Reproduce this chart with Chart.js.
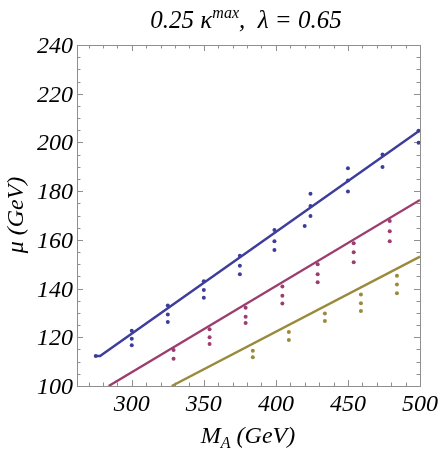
<!DOCTYPE html>
<html>
<head>
<meta charset="utf-8">
<script src="https://cdn.jsdelivr.net/npm/chart.js@4.4.0/dist/chart.umd.min.js"></script>
<style>
  html, body { margin: 0; padding: 0; background: #fff; }
  #wrap { width: 443px; height: 454px; }
</style>
</head>
<body>
<div id="wrap"><canvas id="muChart" width="443" height="454"></canvas></div>
<script>
// axis ranges and tick labels
const xRange = [262, 500];
const yRange = [100, 240];
const xTickLabels = [300, 350, 400, 450, 500];
const yTickLabels = [100, 120, 140, 160, 180, 200, 220, 240];

// scan points
const blueX = [275, 300, 300, 300, 325, 325, 325, 350, 350, 350, 375, 375, 375, 399, 399, 399, 420, 424, 424, 424, 450, 450, 450, 474, 474, 499, 499];
const blueY = [112.3, 122.7, 119.4, 116.7, 133.0, 129.4, 126.3, 143.0, 139.4, 136.2, 153.5, 149.4, 145.9, 164.0, 159.4, 155.8, 165.7, 178.9, 173.9, 169.8, 189.4, 184.4, 179.9, 195.0, 189.9, 204.8, 199.9];
const magX = [329, 329, 354, 354, 354, 379, 379, 379, 404.5, 404.5, 404.5, 429, 429, 429, 454, 454, 454, 479, 479, 479];
const magY = [114.8, 111.2, 123.3, 120.0, 117.2, 132.1, 128.4, 125.9, 140.8, 137.1, 133.9, 150.0, 145.9, 142.6, 158.6, 154.9, 150.8, 167.7, 163.5, 159.4];
const goldX = [384, 384, 409, 409, 434, 434, 459, 459, 459, 484, 484, 484];
const goldY = [114.5, 111.8, 122.2, 118.9, 129.8, 126.7, 137.6, 134.0, 130.8, 145.3, 141.7, 138.1];

// fitted lines
const blueLineX = [275, 278, 500];
const blueLineY = [112.3, 112.3, 205];
const magLineX = [284, 500];
const magLineY = [100, 176.4];
const goldLineX = [327.7, 500];
const goldLineY = [100, 153.1];

const BLUE = '#3d3d9c';
const MAG = '#9c3d6f';
const GOLD = '#9a8a3c';
const FRAME = '#8f8f8f';
const SERIF = '"Liberation Serif", "Times New Roman", Times, serif';
const FONT = 'italic 24px ' + SERIF;
const TITLE = 'italic 25px ' + SERIF;
const SMALL = 'italic 16px ' + SERIF;

function toXY(xs, ys) {
    return xs.map((x, i) => ({ x: x, y: ys[i] }));
}

function pointSet(xs, ys, color) {
    return {
        type: 'scatter',
        data: toXY(xs, ys),
        backgroundColor: color,
        borderColor: color,
        pointRadius: 2,
        pointBorderWidth: 0,
        showLine: false
    };
}

function lineSet(xs, ys, color) {
    return {
        type: 'line',
        data: toXY(xs, ys),
        borderColor: color,
        borderWidth: 2.4,
        pointRadius: 0,
        fill: false,
        tension: 0
    };
}

// frame, inward ticks and serif labels
const framePlugin = {
    id: 'frame',
    beforeDatasetsDraw(chart) {
        const ctx = chart.ctx;
        const a = chart.chartArea;
        const xs = chart.scales.x;
        const ys = chart.scales.y;
        ctx.save();
        ctx.strokeStyle = FRAME;
        ctx.lineWidth = 1;
        ctx.strokeRect(a.left + 0.5, a.top + 0.5, a.right - a.left, a.bottom - a.top);

        ctx.beginPath();
        for (let v = 270; v <= xRange[1]; v += 10) {
            const px = Math.round(xs.getPixelForValue(v)) + 0.5;
            const len = v % 50 === 0 ? 6 : 3.5;
            ctx.moveTo(px, a.bottom);
            ctx.lineTo(px, a.bottom - len);
            ctx.moveTo(px, a.top);
            ctx.lineTo(px, a.top + len);
        }
        for (let v = yRange[0]; v <= yRange[1]; v += 5) {
            const py = Math.round(ys.getPixelForValue(v)) + 0.5;
            const len = v % 20 === 0 ? 6 : 3.5;
            ctx.moveTo(a.left, py);
            ctx.lineTo(a.left + len, py);
            ctx.moveTo(a.right, py);
            ctx.lineTo(a.right - len, py);
        }
        ctx.stroke();

        ctx.fillStyle = '#000';
        ctx.font = FONT;
        ctx.textAlign = 'center';
        ctx.textBaseline = 'alphabetic';
        xTickLabels.forEach(v => ctx.fillText(String(v), xs.getPixelForValue(v), a.bottom + 25));
        ctx.textAlign = 'right';
        yTickLabels.forEach(v => ctx.fillText(String(v), a.left - 4, ys.getPixelForValue(v) + 8));
        ctx.restore();
    },
    afterDraw(chart) {
        const ctx = chart.ctx;
        ctx.save();
        ctx.fillStyle = '#000';
        ctx.textBaseline = 'alphabetic';
        ctx.textAlign = 'left';

        // title: 0.25 κ^max,  λ = 0.65
        const parts = [
            { t: '0.25 \u03BA', f: TITLE, dy: 0 },
            { t: 'max', f: SMALL, dy: -10 },
            { t: ',  \u03BB = 0.65', f: TITLE, dy: 0 }
        ];
        let total = 0;
        parts.forEach(p => { ctx.font = p.f; p.w = ctx.measureText(p.t).width; total += p.w; });
        let x = 246 - total / 2;
        parts.forEach(p => { ctx.font = p.f; ctx.fillText(p.t, x, 28 + p.dy); x += p.w; });

        // x axis title: M_A (GeV)
        const xParts = [
            { t: 'M', f: FONT, dy: 0 },
            { t: 'A', f: SMALL, dy: 5 },
            { t: ' (GeV)', f: FONT, dy: 0 }
        ];
        total = 0;
        xParts.forEach(p => { ctx.font = p.f; p.w = ctx.measureText(p.t).width; total += p.w; });
        x = 248 - total / 2;
        xParts.forEach(p => { ctx.font = p.f; ctx.fillText(p.t, x, 443 + p.dy); x += p.w; });

        // y axis title
        ctx.translate(23, 215);
        ctx.rotate(-Math.PI / 2);
        ctx.font = FONT;
        ctx.textAlign = 'center';
        ctx.fillText('\u03BC (GeV)', 0, 0);
        ctx.restore();
    }
};

function initChart() {
    const ctx = document.getElementById('muChart').getContext('2d');
    new Chart(ctx, {
        type: 'scatter',
        data: {
            datasets: [
                lineSet(blueLineX, blueLineY, BLUE),
                lineSet(magLineX, magLineY, MAG),
                lineSet(goldLineX, goldLineY, GOLD),
                pointSet(blueX, blueY, BLUE),
                pointSet(magX, magY, MAG),
                pointSet(goldX, goldY, GOLD)
            ]
        },
        options: {
            responsive: false,
            animation: false,
            devicePixelRatio: 1,
            layout: { padding: { left: 77, right: 23, top: 45, bottom: 68 } },
            scales: {
                x: { type: 'linear', min: xRange[0], max: xRange[1], display: false },
                y: { type: 'linear', min: yRange[0], max: yRange[1], display: false }
            },
            plugins: {
                legend: { display: false },
                tooltip: { enabled: false }
            }
        },
        plugins: [framePlugin]
    });
}

if (document.readyState === 'loading') {
    document.addEventListener('DOMContentLoaded', initChart);
} else {
    initChart();
}
</script>
</body>
</html>
